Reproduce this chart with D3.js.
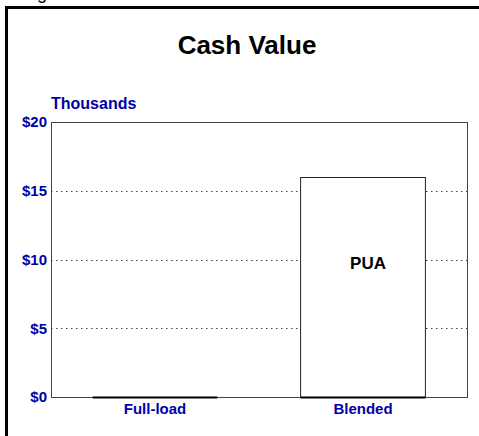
<!DOCTYPE html>
<html>
<head>
<meta charset="utf-8">
<script src="https://cdn.jsdelivr.net/npm/d3@7"></script>
<style>
  body { margin: 0; background: #fff; }
  svg { display: block; }
  text { font-family: "Liberation Sans", Arial, sans-serif; }
</style>
</head>
<body>
<script>
// chart values
const categories = ["Full-load", "Blended"];
const values = [0, 16];
const barLabels = ["", "PUA"];
const yTicks = [0, 5, 10, 15, 20];
const title = "Cash Value";
const unitLabel = "Thousands";

const W = 479, H = 436;
const margin = {top: 122, right: 12, bottom: 39, left: 51},
    width = W - margin.left - margin.right,
    height = H - margin.top - margin.bottom;

const blue = "#0000a8";

let svg = d3.select("body")
  .append("svg")
    .attr("width", W)
    .attr("height", H);

// outer frame (top and left thick rule)
svg.append("path")
    .attr("d", "M6.5,436 V7.5 H479")
    .attr("fill", "none")
    .attr("stroke", "#000")
    .attr("stroke-width", 3);

// clipped heading above the frame
svg.append("text")
    .attr("x", 37)
    .attr("y", -1)
    .attr("font-size", 18)
    .text("g");

svg.append("text")
    .attr("x", 247)
    .attr("y", 54)
    .attr("text-anchor", "middle")
    .attr("font-size", 26)
    .attr("font-weight", "bold")
    .text(title);

let g = svg.append("g")
    .attr("transform", "translate(" + margin.left + "," + margin.top + ")");

const xScale = d3.scaleBand()
    .domain(categories)
    .range([0, width])
    .padding(0);

const yScale = d3.scaleLinear()
    .domain([0, 20])
    .range([height, 0]);

// grid lines
g.selectAll(".grid")
    .data(yTicks.filter(d => d > 0 && d < 20))
    .enter()
    .append("line")
    .attr("x1", 0)
    .attr("x2", width)
    .attr("y1", d => Math.round(yScale(d)) + 0.5)
    .attr("y2", d => Math.round(yScale(d)) + 0.5)
    .attr("stroke", "#444")
    .attr("stroke-dasharray", "1.5,3.5");

// plot box
g.append("rect")
    .attr("x", 0.5)
    .attr("y", 0.5)
    .attr("width", width)
    .attr("height", height)
    .attr("fill", "none")
    .attr("stroke", "#444");

const barW = xScale.bandwidth() * 0.6;

g.selectAll(".bar")
    .data(values)
    .enter()
    .append("rect")
    .attr("x", (d, i) => xScale(categories[i]) + (xScale.bandwidth() - barW) / 2)
    .attr("y", d => yScale(d) + 0.5)
    .attr("width", barW)
    .attr("height", d => height - yScale(d))
    .attr("fill", "#fff")
    .attr("stroke", "#222");

// heavy base under each bar
g.selectAll(".base")
    .data(values)
    .enter()
    .append("line")
    .attr("x1", (d, i) => xScale(categories[i]) + (xScale.bandwidth() - barW) / 2)
    .attr("x2", (d, i) => xScale(categories[i]) + (xScale.bandwidth() + barW) / 2)
    .attr("y1", height + 0.5)
    .attr("y2", height + 0.5)
    .attr("stroke", "#000")
    .attr("stroke-width", 2);

g.selectAll(".barLabel")
    .data(values)
    .enter()
    .append("text")
    .attr("x", (d, i) => xScale(categories[i]) + xScale.bandwidth() / 2 + 5)
    .attr("y", d => yScale(d * 0.58))
    .attr("text-anchor", "middle")
    .attr("font-size", 17)
    .attr("font-weight", "bold")
    .text((d, i) => barLabels[i]);

// y axis
let yAxis = g.append("g")
    .call(d3.axisLeft(yScale)
        .tickValues(yTicks)
        .tickSize(0)
        .tickPadding(4)
        .tickFormat(d => "$" + d));
yAxis.select(".domain").remove();
yAxis.selectAll(".tick text")
    .attr("fill", blue)
    .attr("font-size", 15)
    .attr("font-weight", "bold")
    .attr("font-family", "Liberation Sans, Arial, sans-serif");

// x axis
let xAxis = g.append("g")
    .attr("transform", "translate(0," + height + ")")
    .call(d3.axisBottom(xScale).tickSize(0).tickPadding(6));
xAxis.select(".domain").remove();
xAxis.selectAll(".tick text")
    .attr("fill", blue)
    .attr("font-size", 15)
    .attr("font-weight", "bold")
    .attr("font-family", "Liberation Sans, Arial, sans-serif");

g.append("text")
    .attr("x", 0)
    .attr("y", -13)
    .attr("fill", blue)
    .attr("font-size", 16)
    .attr("font-weight", "bold")
    .text(unitLabel);
</script>
</body>
</html>
